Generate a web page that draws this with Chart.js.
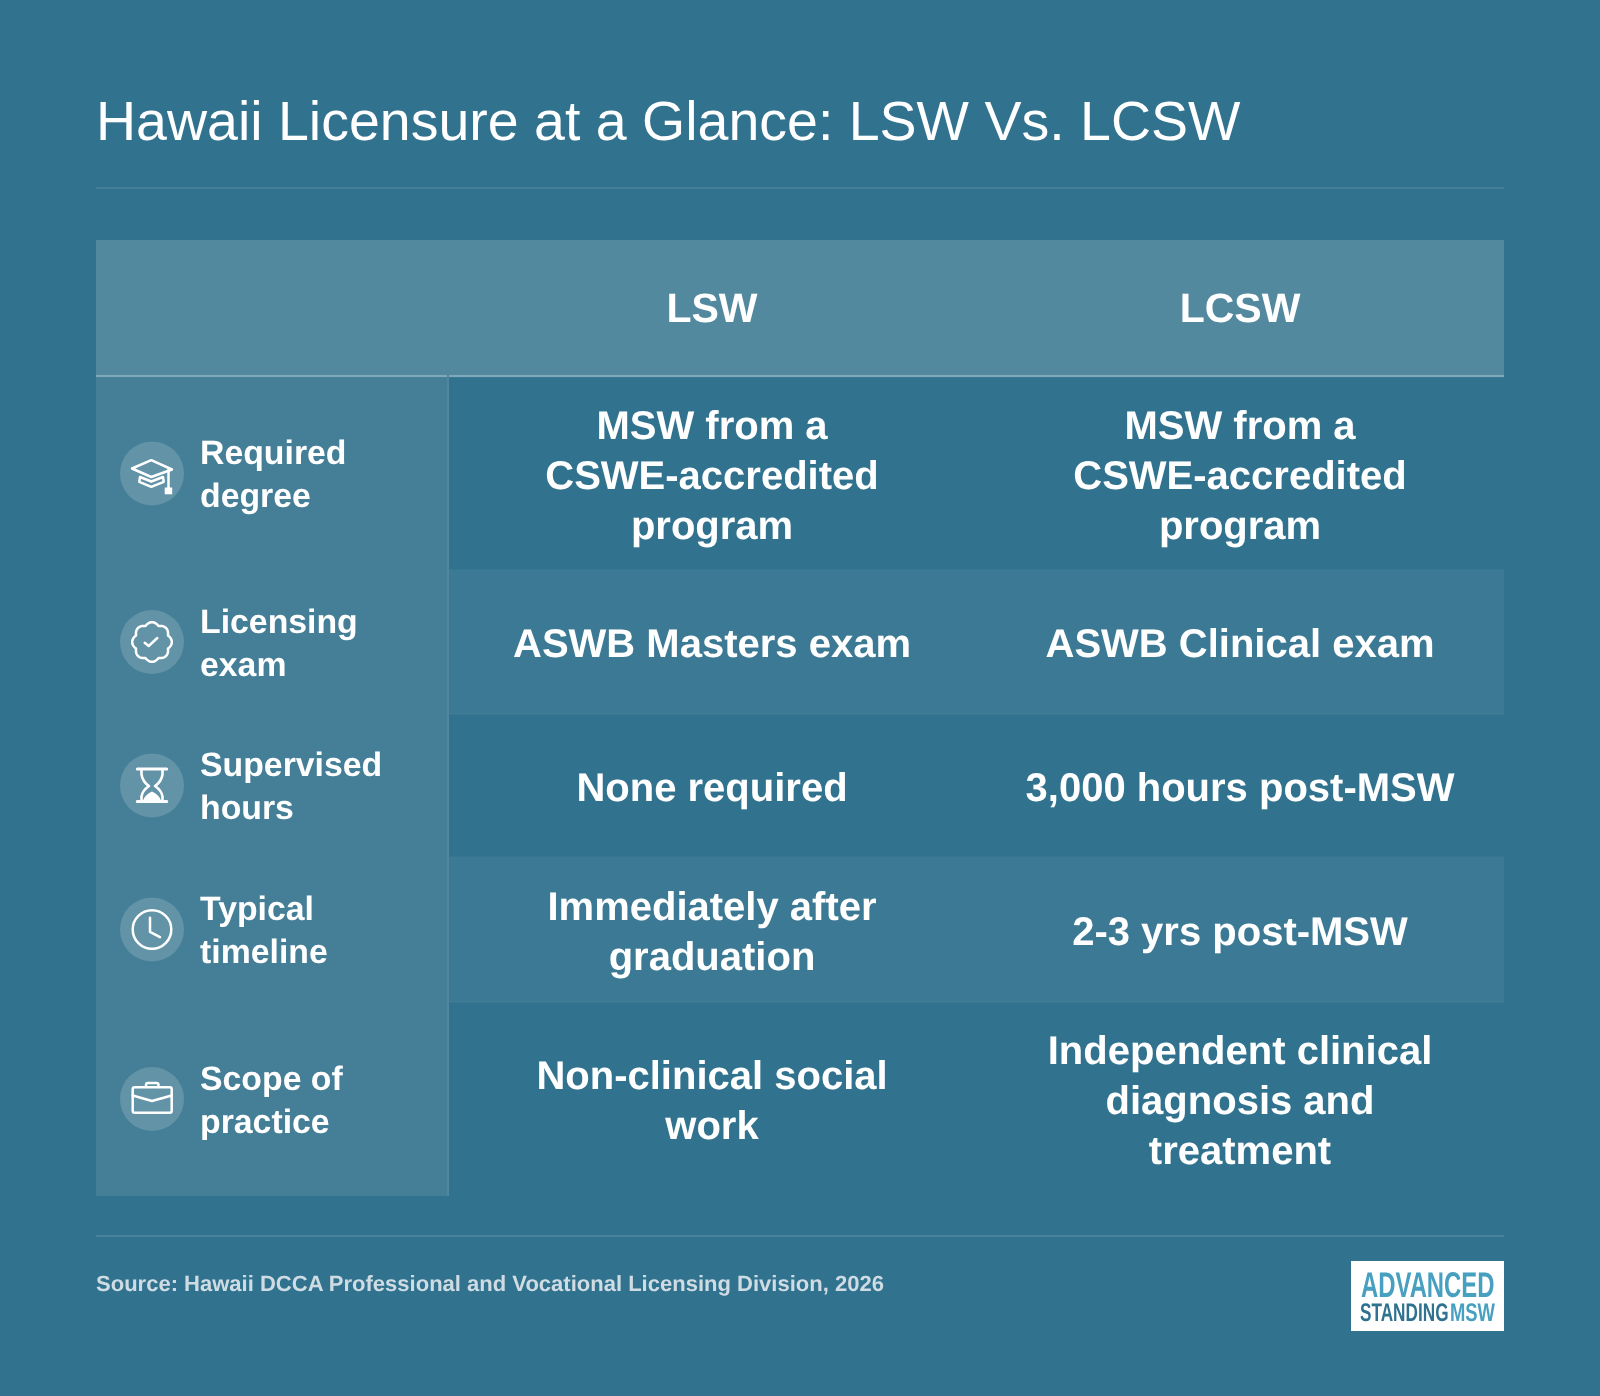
<!DOCTYPE html>
<html>
<head>
<meta charset="utf-8">
<title>Hawaii Licensure at a Glance</title>
<script src="https://cdn.jsdelivr.net/npm/chart.js@4"></script>
<style>
  html, body { margin: 0; padding: 0; background: #31738f; }
  canvas { display: block; }
</style>
</head>
<body>
<canvas id="myChart" width="1600" height="1396"></canvas>
<script>
const titleText = 'Hawaii Licensure at a Glance: LSW Vs. LCSW';
const sourceText = 'Source: Hawaii DCCA Professional and Vocational Licensing Division, 2026';
const columns = ['', 'LSW', 'LCSW'];
const columnWidths = [352, 528, 528];
const headerHeight = 137;
const rowHeights = [193, 144, 143, 145, 194];
const rowLabels = [
    ['Required', 'degree'],
    ['Licensing', 'exam'],
    ['Supervised', 'hours'],
    ['Typical', 'timeline'],
    ['Scope of', 'practice']
];
const rowIcons = ['cap', 'badge', 'hourglass', 'clock', 'briefcase'];
const lswValues = [
    ['MSW from a', 'CSWE-accredited', 'program'],
    ['ASWB Masters exam'],
    ['None required'],
    ['Immediately after', 'graduation'],
    ['Non-clinical social', 'work']
];
const lcswValues = [
    ['MSW from a', 'CSWE-accredited', 'program'],
    ['ASWB Clinical exam'],
    ['3,000 hours post-MSW'],
    ['2-3 yrs post-MSW'],
    ['Independent clinical', 'diagnosis and', 'treatment']
];

const fontFamily = '"Liberation Sans", Arial, sans-serif';
const bgColor = '#31738f';
const headerColor = '#52899f';
const sideColor = '#457f97';
const altColor = '#3c7994';
const white = '#ffffff';

// running edges of the columns and rows on the chart's own scales
const columnEdges = [0];
columnWidths.forEach(w => columnEdges.push(columnEdges[columnEdges.length - 1] + w));
const rowEdges = [headerHeight];
rowHeights.forEach(h => rowEdges.push(rowEdges[rowEdges.length - 1] + h));
const tableWidth = columnEdges[columnEdges.length - 1];
const tableHeight = rowEdges[rowEdges.length - 1];

function cell(top, height, from, to, color) {
    return {
        data: [{ y: top + height / 2, x: [columnEdges[from], columnEdges[to]] }],
        backgroundColor: color,
        barThickness: height,
        grouped: false,
        borderWidth: 0
    };
}

const datasets = [cell(0, headerHeight, 0, 3, headerColor)];
rowHeights.forEach((h, i) => {
    datasets.push(cell(rowEdges[i], h, 0, 1, sideColor));
    datasets.push(cell(rowEdges[i], h, 1, 3, i % 2 === 1 ? altColor : bgColor));
});

const icons = {
    cap(ctx) {
        ctx.beginPath();
        ctx.moveTo(-0.7, -13.3); ctx.lineTo(20, -4); ctx.lineTo(-0.7, 3.5); ctx.lineTo(-20, -5);
        ctx.closePath();
        ctx.stroke();
        ctx.beginPath();
        ctx.moveTo(-12, 3.5); ctx.lineTo(-12.7, 8.3); ctx.lineTo(-0.7, 13.3); ctx.lineTo(11.7, 8.3); ctx.lineTo(11, 3.5);
        ctx.lineTo(-0.7, 8); ctx.closePath();
        ctx.stroke();
        ctx.beginPath();
        ctx.moveTo(16.5, -3.5); ctx.lineTo(16.5, 14);
        ctx.stroke();
        ctx.fillRect(12.7, 14, 7.5, 6.8);
    },
    badge(ctx) {
        ctx.beginPath();
        for (let a = 0; a <= 360; a += 2) {
            const t = a * Math.PI / 180;
            const r = 17.2 + 2.6 * Math.abs(Math.cos(4 * t));
            ctx.lineTo(r * Math.cos(t), r * Math.sin(t));
        }
        ctx.closePath();
        ctx.stroke();
        ctx.beginPath();
        ctx.moveTo(-7.3, 0.7); ctx.lineTo(-3.3, 4); ctx.lineTo(5.3, -4);
        ctx.stroke();
    },
    hourglass(ctx) {
        ctx.lineWidth = 3;
        ctx.beginPath();
        ctx.moveTo(-14.7, -16.5); ctx.lineTo(14.7, -16.5);
        ctx.moveTo(-14.7, 16); ctx.lineTo(14.7, 16);
        ctx.stroke();
        ctx.lineWidth = 2.6;
        ctx.beginPath();
        ctx.moveTo(-10.5, -16); ctx.lineTo(-10.5, -11);
        ctx.quadraticCurveTo(-9.5, -4, -3, 0.5);
        ctx.quadraticCurveTo(-9.5, 5, -10.5, 11);
        ctx.lineTo(-10.5, 16);
        ctx.moveTo(10.5, -16); ctx.lineTo(10.5, -11);
        ctx.quadraticCurveTo(9.5, -4, 3, 0.5);
        ctx.quadraticCurveTo(9.5, 5, 10.5, 11);
        ctx.lineTo(10.5, 16);
        ctx.stroke();
        ctx.beginPath();
        ctx.moveTo(-9.5, 16); ctx.quadraticCurveTo(-7, 9, 0, 6); ctx.quadraticCurveTo(7, 9, 9.5, 16);
        ctx.closePath();
        ctx.fill();
    },
    clock(ctx) {
        ctx.beginPath();
        ctx.arc(0, 0, 19.3, 0, Math.PI * 2);
        ctx.stroke();
        ctx.beginPath();
        ctx.moveTo(-2, -11.7); ctx.lineTo(-2, 2.3); ctx.lineTo(8, 7.6);
        ctx.stroke();
    },
    briefcase(ctx) {
        ctx.beginPath();
        ctx.roundRect(-19.3, -11.7, 39, 25.4, 2);
        ctx.stroke();
        ctx.beginPath();
        ctx.moveTo(-19.3, -3.5); ctx.lineTo(0, 2); ctx.lineTo(19.7, -3.5);
        ctx.stroke();
        ctx.beginPath();
        ctx.moveTo(-6, -12); ctx.lineTo(-6, -14); ctx.quadraticCurveTo(-6, -16, -4, -16);
        ctx.lineTo(4.5, -16); ctx.quadraticCurveTo(6.5, -16, 6.5, -14); ctx.lineTo(6.5, -12);
        ctx.stroke();
    }
};

function fitText(ctx, text, x, baseline, width, capHeight, weight, color) {
    const size = capHeight / 0.716;
    ctx.font = weight + ' ' + size + 'px ' + fontFamily;
    const scale = width / ctx.measureText(text).width;
    ctx.save();
    ctx.translate(x, baseline);
    ctx.scale(scale, 1);
    ctx.textAlign = 'left';
    ctx.textBaseline = 'alphabetic';
    ctx.fillStyle = color;
    ctx.fillText(text, 0, 0);
    ctx.restore();
}

const tablePlugin = {
    id: 'tablePlugin',
    afterDatasetsDraw(chart) {
        const { ctx, chartArea, scales: { x, y } } = chart;
        const left = chartArea.left;
        const right = chartArea.right;
        const sideX = x.getPixelForValue(columnEdges[1]);
        ctx.save();
        ctx.textRendering = 'geometricPrecision';

        // rules between the rows
        ctx.fillStyle = 'rgba(255,255,255,0.05)';
        rowEdges.slice(1, -1).forEach(edge => {
            ctx.fillRect(sideX, y.getPixelForValue(edge) - 0.5, right - sideX, 1);
        });
        // rule under the header
        ctx.fillStyle = '#7fa9ba';
        ctx.fillRect(left, y.getPixelForValue(headerHeight) - 2, right - left, 2);
        // edge of the label column
        ctx.fillStyle = '#50879e';
        ctx.fillRect(sideX - 1, y.getPixelForValue(headerHeight) - 2, 2, y.getPixelForValue(tableHeight) - y.getPixelForValue(headerHeight) + 2);
        // rules under the title and above the source
        ctx.fillStyle = '#417f99';
        ctx.fillRect(left, 187, right - left, 2);
        ctx.fillStyle = '#4a839c';
        ctx.fillRect(left, 1235, right - left, 2);

        ctx.fillStyle = white;
        ctx.textBaseline = 'middle';

        // column headers
        ctx.textAlign = 'center';
        ctx.font = 'bold 41px ' + fontFamily;
        columns.forEach((name, i) => {
            if (!name) return;
            const cx = x.getPixelForValue((columnEdges[i] + columnEdges[i + 1]) / 2);
            ctx.fillText(name, cx, y.getPixelForValue(headerHeight / 2 + 2.5));
        });

        rowHeights.forEach((h, i) => {
            const cy = y.getPixelForValue(rowEdges[i] + h / 2);

            // icon in its circle
            const ix = left + 56;
            ctx.fillStyle = 'rgba(255,255,255,0.16)';
            ctx.beginPath();
            ctx.arc(ix, cy, 32, 0, Math.PI * 2);
            ctx.fill();
            ctx.save();
            ctx.translate(ix, cy);
            ctx.strokeStyle = white;
            ctx.fillStyle = white;
            ctx.lineWidth = 2.5;
            ctx.lineJoin = 'round';
            ctx.lineCap = 'round';
            icons[rowIcons[i]](ctx);
            ctx.restore();

            // row label
            ctx.fillStyle = white;
            ctx.textAlign = 'left';
            ctx.font = 'bold 33.8px ' + fontFamily;
            rowLabels[i].forEach((line, n) => {
                ctx.fillText(line, left + 104, cy + 3 + (n - (rowLabels[i].length - 1) / 2) * 43);
            });

            // values
            ctx.textAlign = 'center';
            ctx.font = 'bold 40px ' + fontFamily;
            [lswValues[i], lcswValues[i]].forEach((lines, c) => {
                const cx = x.getPixelForValue((columnEdges[c + 1] + columnEdges[c + 2]) / 2);
                lines.forEach((line, n) => {
                    ctx.fillText(line, cx, cy + 4 + (n - (lines.length - 1) / 2) * 50);
                });
            });
        });

        // source line
        ctx.textAlign = 'left';
        ctx.fillStyle = '#cfdce3';
        ctx.font = 'bold 22.03px ' + fontFamily;
        ctx.fillText(sourceText, left, 1285);

        // logo
        ctx.fillStyle = white;
        ctx.fillRect(1351, 1261, 153, 70);
        fitText(ctx, 'ADVANCED', 1361, 1297.3, 133.5, 25.6, 'bold', '#47a0bf');
        fitText(ctx, 'STANDING', 1360, 1321, 88.5, 18.3, 'bold', '#2f7290');
        fitText(ctx, 'MSW', 1450, 1321, 45, 18.3, 'bold', '#47a0bf');

        ctx.restore();
    }
};

new Chart(document.getElementById('myChart').getContext('2d'), {
    type: 'bar',
    data: { datasets },
    options: {
        indexAxis: 'y',
        responsive: false,
        animation: false,
        layout: { padding: { left: 96, right: 96, top: 0, bottom: 200 } },
        scales: {
            x: { type: 'linear', min: 0, max: tableWidth, display: false },
            y: { type: 'linear', min: 0, max: tableHeight, reverse: true, offset: false, display: false }
        },
        plugins: {
            legend: { display: false },
            tooltip: { enabled: false },
            title: {
                display: true,
                text: titleText,
                align: 'start',
                color: white,
                font: { family: fontFamily, size: 55.5, weight: 'normal' },
                padding: { top: 91, bottom: 82.4 }
            }
        }
    },
    plugins: [tablePlugin]
});
</script>
</body>
</html>
